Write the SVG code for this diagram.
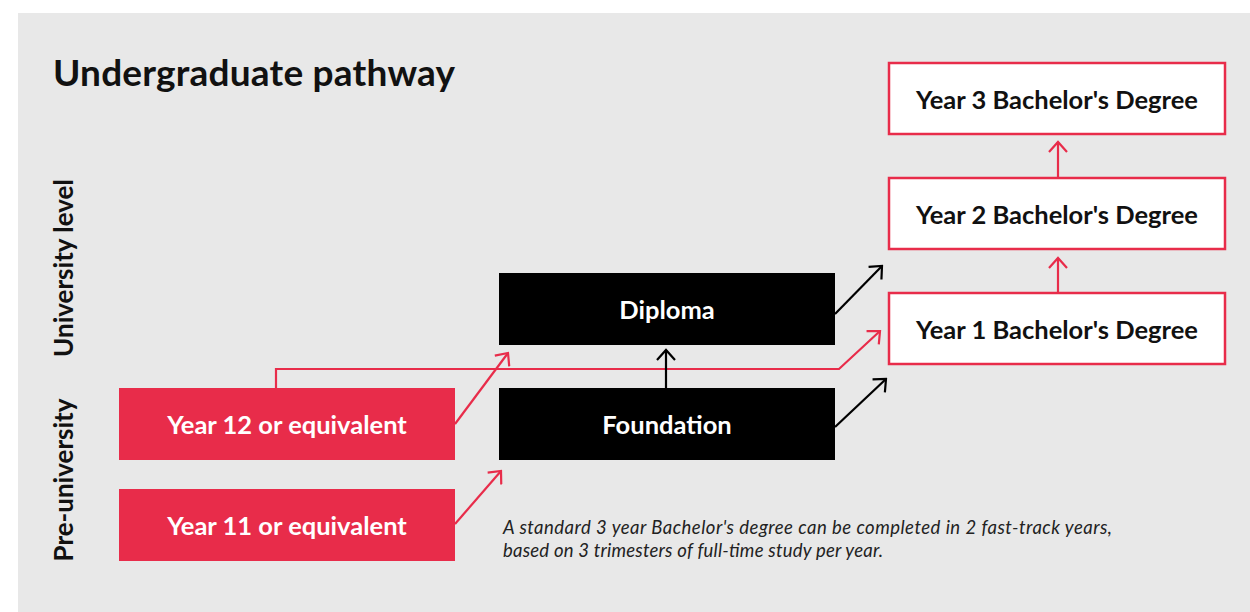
<svg xmlns="http://www.w3.org/2000/svg" width="1250" height="612" viewBox="0 0 1250 612">
<defs>
<style>
.t{font-family:Lato,"Liberation Sans",sans-serif;}
.lbl{font-size:25.5px;font-weight:bold;text-anchor:middle;}
.w{fill:#ffffff;}
.k{fill:#111111;}
.red{fill:#e82c4a;}
.blk{fill:#000000;}
.wbox{fill:#ffffff;stroke:#e82c4a;stroke-width:2.5;}
.cr{fill:none;stroke:#e82c4a;stroke-width:2.2;}
.ck{fill:none;stroke:#000000;stroke-width:2.2;}
.note{font-size:18.5px;font-style:italic;fill:#222222;}
</style>
<marker id="ar" viewBox="-12 -10 14 20" markerWidth="14" markerHeight="20" refX="0" refY="0" orient="auto" markerUnits="userSpaceOnUse">
<path d="M-10,-9 L0,0 L-10,9" fill="none" stroke="#e82c4a" stroke-width="2.2"/>
</marker>
<marker id="ak" viewBox="-12 -10 14 20" markerWidth="14" markerHeight="20" refX="0" refY="0" orient="auto" markerUnits="userSpaceOnUse">
<path d="M-10,-9 L0,0 L-10,9" fill="none" stroke="#000000" stroke-width="2.2"/>
</marker>
</defs>
<rect x="0" y="0" width="1250" height="612" fill="#ffffff"/>
<rect x="18" y="13" width="1232" height="599" fill="#e8e8e8"/>
<text class="t k" x="53" y="86" font-size="37" font-weight="bold" textLength="402" lengthAdjust="spacing">Undergraduate pathway</text>
<text class="t k" transform="translate(73,268) rotate(-90)" font-size="26" font-weight="bold" text-anchor="middle">University level</text>
<text class="t k" transform="translate(73,480) rotate(-90)" font-size="26" font-weight="bold" text-anchor="middle">Pre-university</text>
<g id="connectors">
<path class="cr" d="M276,388 L276,369 L839,369 L880,331" marker-end="url(#ar)"/>
<path class="cr" d="M455,424 L508,353" marker-end="url(#ar)"/>
<path class="cr" d="M455,524 L501,471" marker-end="url(#ar)"/>
<path class="ck" d="M835,314 L882,266" marker-end="url(#ak)"/>
<path class="ck" d="M835,427 L886,379" marker-end="url(#ak)"/>
<path class="ck" d="M666,388 L666,350" marker-end="url(#ak)"/>
<path class="cr" d="M1058,293 L1058,258" marker-end="url(#ar)"/>
<path class="cr" d="M1058,178 L1058,142" marker-end="url(#ar)"/>
</g>
<g id="year12">
<rect class="red" x="119" y="388" width="336" height="72"/>
<text class="t lbl w" x="287" y="434">Year 12 or equivalent</text>
</g>
<g id="year11">
<rect class="red" x="119" y="489" width="336" height="72"/>
<text class="t lbl w" x="287" y="535">Year 11 or equivalent</text>
</g>
<g id="diploma">
<rect class="blk" x="499" y="273" width="336" height="72"/>
<text class="t lbl w" x="667" y="319">Diploma</text>
</g>
<g id="foundation">
<rect class="blk" x="499" y="388" width="336" height="72"/>
<text class="t lbl w" x="667" y="434">Foundation</text>
</g>
<g id="bach3">
<rect class="wbox" x="889" y="63" width="336" height="71"/>
<text class="t lbl k" x="1057" y="109">Year 3 Bachelor's Degree</text>
</g>
<g id="bach2">
<rect class="wbox" x="889" y="178" width="336" height="71"/>
<text class="t lbl k" x="1057" y="224">Year 2 Bachelor's Degree</text>
</g>
<g id="bach1">
<rect class="wbox" x="889" y="293" width="336" height="71"/>
<text class="t lbl k" x="1057" y="339">Year 1 Bachelor's Degree</text>
</g>
<text class="t note" x="503" y="534" textLength="609" lengthAdjust="spacing">A standard 3 year Bachelor's degree can be completed in 2 fast-track years,</text>
<text class="t note" x="503" y="557" textLength="380" lengthAdjust="spacing">based on 3 trimesters of full-time study per year.</text>
</svg>
